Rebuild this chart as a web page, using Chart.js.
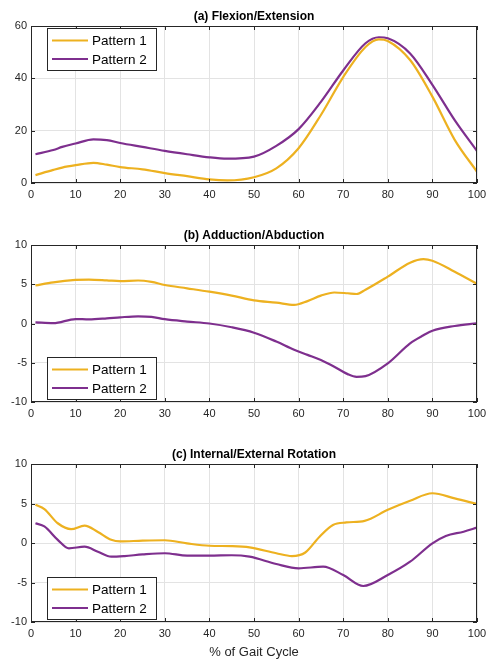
<!DOCTYPE html>
<html>
<head>
<meta charset="utf-8">
<script src="https://cdn.jsdelivr.net/npm/chart.js@4/dist/chart.umd.min.js"></script>
<style>
  body { margin: 0; background: #fff; width: 488px; height: 660px; position: relative; overflow: hidden; }
  canvas { position: absolute; left: 0; }
</style>
</head>
<body>
<canvas id="flex" width="488" height="203" style="top:0"></canvas>
<canvas id="abd" width="488" height="203" style="top:219px"></canvas>
<canvas id="rot" width="488" height="222" style="top:438px"></canvas>
<script>
// Gait data (% of gait cycle vs. angle)
const flexX = [1, 5, 7, 10, 14, 17, 20, 25, 30, 35, 40, 44, 50, 55, 60, 65, 70, 75, 78, 80, 85, 90, 95, 100];
const flexP1 = [3.0, 5.0, 5.9, 6.8, 7.7, 7.0, 6.1, 5.2, 3.8, 2.6, 1.4, 1.0, 2.2, 5.6, 13.3, 26, 40.5, 52, 54.9, 54.3, 47, 33, 16.5, 4.3];
const flexP2 = [11.0, 12.6, 13.8, 15.1, 16.7, 16.4, 15.3, 13.8, 12.3, 11.0, 9.8, 9.3, 10.1, 14.2, 20.6, 31, 43, 53.4, 55.7, 55.3, 49.5, 37.5, 24, 12.2];

const abdX = [1, 5, 10, 13, 17, 20, 24, 27, 30, 35, 40, 45, 50, 55, 59, 62, 65, 68, 71, 73, 75, 80, 85, 88, 90, 95, 100];
const abdP1 = [4.85, 5.25, 5.55, 5.6, 5.5, 5.4, 5.48, 5.3, 4.9, 4.48, 4.05, 3.55, 2.95, 2.65, 2.36, 2.85, 3.55, 3.95, 3.85, 3.76, 4.3, 5.97, 7.75, 8.2, 8.0, 6.6, 5.05];
const abdP2 = [0.15, 0.05, 0.57, 0.52, 0.65, 0.79, 0.92, 0.85, 0.55, 0.25, 0.0, -0.48, -1.17, -2.3, -3.35, -4.0, -4.65, -5.5, -6.45, -6.8, -6.7, -5.07, -2.52, -1.5, -0.92, -0.32, 0.03];

const rotX1 = [1, 3, 6, 9, 12, 15, 18, 20, 25, 30, 35, 40, 45, 49, 55, 58.5, 61.5, 64.7, 67.7, 70.7, 74.8, 80, 85, 90, 95, 100];
const rotP1 = [4.85, 4.3, 2.5, 1.75, 2.2, 1.4, 0.4, 0.2, 0.3, 0.35, -0.05, -0.35, -0.4, -0.55, -1.3, -1.65, -1.2, 0.8, 2.28, 2.6, 2.8, 4.2, 5.35, 6.3, 5.65, 4.94];
const rotX2 = [1, 3, 6, 8.5, 12, 15, 18, 21, 25, 30, 35, 40, 45, 49, 55, 60, 65.5, 70, 74.5, 80, 85, 90, 93, 97, 100];
const rotP2 = [2.5, 2.1, 0.4, -0.67, -0.47, -1.1, -1.73, -1.65, -1.45, -1.3, -1.6, -1.6, -1.55, -1.73, -2.66, -3.2, -3.0, -4.05, -5.44, -4.05, -2.37, -0.05, 0.89, 1.43, 1.94];

const seriesNames = ["Pattern 1", "Pattern 2"];
const seriesColors = ["#EDB120", "#7E2F8E"];
const xTicks = [0, 100, 10];

const AXIS = "#262626";
Chart.defaults.font.family = "'Liberation Sans', Arial, Helvetica, sans-serif";
Chart.defaults.color = AXIS;

const toPoints = (xs, ys) => xs.map((x, i) => ({ x: x, y: ys[i] }));

// matlab-ish axes: box, inward ticks, title, legend box
const matlabAxes = {
  id: "matlabAxes",
  afterDraw(chart, args, opts) {
    const ctx = chart.ctx;
    const a = chart.chartArea;
    const sx = chart.scales.x, sy = chart.scales.y;
    ctx.save();
    ctx.strokeStyle = AXIS;
    ctx.lineWidth = 1;
    ctx.strokeRect(Math.round(a.left) + 0.5, Math.round(a.top) + 0.5, Math.round(a.right - a.left) - 1, Math.round(a.bottom - a.top) - 1);
    ctx.beginPath();
    sx.ticks.forEach(t => {
      const px = Math.round(sx.getPixelForValue(t.value)) + 0.5;
      ctx.moveTo(px, a.top); ctx.lineTo(px, a.top + 4);
      ctx.moveTo(px, a.bottom); ctx.lineTo(px, a.bottom - 4);
    });
    sy.ticks.forEach(t => {
      const py = Math.round(sy.getPixelForValue(t.value)) + 0.5;
      ctx.moveTo(a.left, py); ctx.lineTo(a.left + 4, py);
      ctx.moveTo(a.right, py); ctx.lineTo(a.right - 4, py);
    });
    ctx.stroke();

    // panel title
    ctx.fillStyle = "#000";
    ctx.font = "bold 12px " + Chart.defaults.font.family;
    ctx.textAlign = "center";
    ctx.textBaseline = "middle";
    ctx.fillText(opts.title, (a.left + a.right) / 2, a.top - 9.5);

    // legend box
    const w = 109, h = 42;
    const lx = a.left + 16;
    const ly = opts.legend === "top" ? a.top + 2 : a.bottom - 3 - h;
    ctx.fillStyle = "#fff";
    ctx.fillRect(lx, ly, w, h);
    ctx.strokeStyle = AXIS;
    ctx.strokeRect(Math.round(lx) + 0.5, Math.round(ly) + 0.5, w, h);
    ctx.font = "13.5px " + Chart.defaults.font.family;
    ctx.textAlign = "left";
    chart.data.datasets.forEach((ds, i) => {
      const ry = ly + 12.5 + i * 18.5;
      ctx.strokeStyle = ds.borderColor;
      ctx.lineWidth = 2;
      ctx.beginPath();
      ctx.moveTo(lx + 5, ry); ctx.lineTo(lx + 41, ry);
      ctx.stroke();
      ctx.fillStyle = "#000";
      ctx.fillText(ds.label, lx + 45, ry + 1);
    });
    ctx.restore();
  }
};

function makePanel(id, title, sets, yMin, yMax, yStep, legendPos, xTitle) {
  new Chart(document.getElementById(id), {
    type: "line",
    data: {
      datasets: sets.map((pts, i) => ({
        label: seriesNames[i],
        data: pts,
        borderColor: seriesColors[i],
        backgroundColor: seriesColors[i],
        borderWidth: 2.2,
        pointRadius: 0,
        cubicInterpolationMode: "monotone",
        fill: false
      }))
    },
    options: {
      responsive: false,
      animation: false,
      layout: { padding: { top: 26, right: 11, left: 0, bottom: 0 } },
      scales: {
        x: {
          type: "linear",
          min: xTicks[0], max: xTicks[1],
          ticks: { stepSize: xTicks[2], padding: 5, font: { size: 11 }, color: AXIS },
          grid: { color: "#e3e3e3", drawTicks: false },
          border: { display: false },
          title: { display: !!xTitle, text: xTitle, font: { size: 13 }, color: AXIS, padding: { top: 2, bottom: 0 } },
          afterFit: s => {
            s.height = xTitle ? 38 : 20;
            s.paddingLeft = 0;
            s.paddingRight = 0;
          }
        },
        y: {
          min: yMin, max: yMax,
          ticks: { stepSize: yStep, padding: 4, font: { size: 11 }, color: AXIS },
          grid: { color: "#e3e3e3", drawTicks: false },
          border: { display: false },
          afterFit: s => {
            s.width = 31;
            s.paddingTop = 0;
            s.paddingBottom = 0;
          }
        }
      },
      plugins: {
        legend: { display: false },
        tooltip: { enabled: false },
        matlabAxes: { title: title, legend: legendPos }
      }
    },
    plugins: [matlabAxes]
  });
}

makePanel("flex", "(a) Flexion/Extension",
  [toPoints(flexX, flexP1), toPoints(flexX, flexP2)], 0, 60, 20, "top");
makePanel("abd", "(b) Adduction/Abduction",
  [toPoints(abdX, abdP1), toPoints(abdX, abdP2)], -10, 10, 5, "bottom");
makePanel("rot", "(c) Internal/External Rotation",
  [toPoints(rotX1, rotP1), toPoints(rotX2, rotP2)], -10, 10, 5, "bottom", "% of Gait Cycle");
</script>
</body>
</html>
